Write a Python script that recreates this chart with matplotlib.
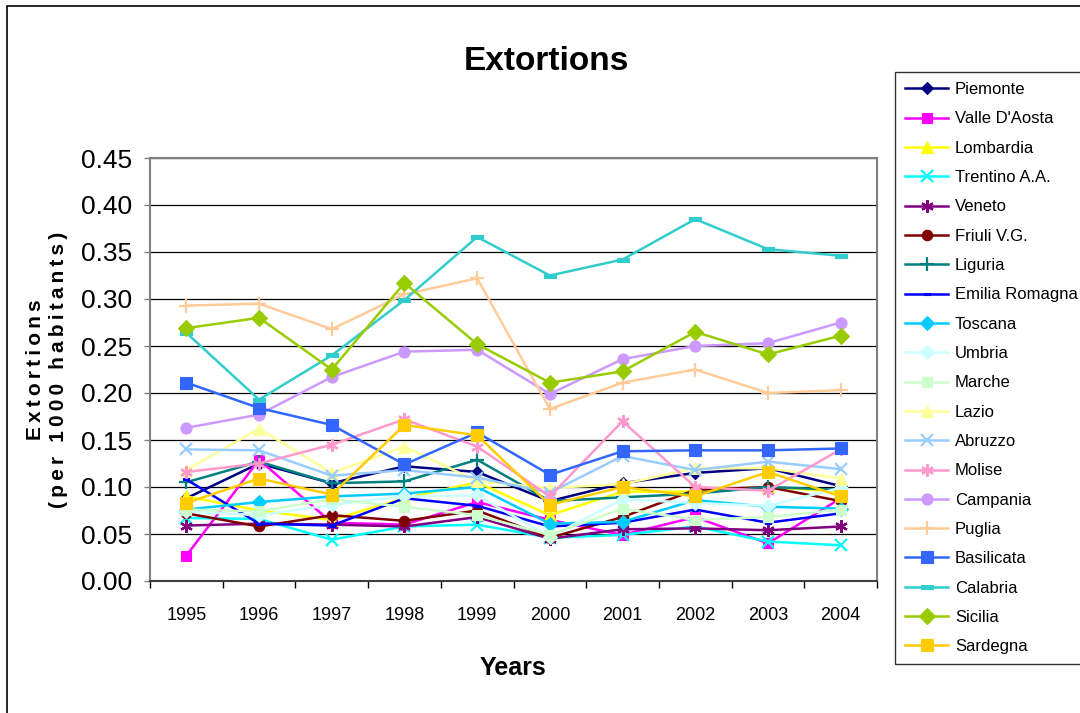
import matplotlib
matplotlib.use("Agg")
import matplotlib.pyplot as plt
from matplotlib.patches import Rectangle
from matplotlib.path import Path
import numpy as np

plt.rcParams['font.family'] = ['Liberation Sans', 'DejaVu Sans']

years = ["1995", "1996", "1997", "1998", "1999", "2000", "2001", "2002", "2003", "2004"]

piemonte = [0.088, 0.125, 0.104, 0.122, 0.116, 0.085, 0.104, 0.115, 0.120, 0.101]
valle_daosta = [0.027, 0.129, 0.062, 0.060, 0.084, 0.065, 0.049, 0.068, 0.040, 0.088]
lombardia = [0.090, 0.075, 0.065, 0.088, 0.105, 0.070, 0.095, 0.095, 0.100, 0.095]
trentino = [0.067, 0.066, 0.044, 0.058, 0.060, 0.046, 0.049, 0.058, 0.042, 0.038]
veneto = [0.059, 0.061, 0.060, 0.058, 0.068, 0.045, 0.055, 0.056, 0.054, 0.058]
friuli = [0.072, 0.058, 0.070, 0.064, 0.075, 0.046, 0.068, 0.097, 0.100, 0.085]
liguria = [0.105, 0.127, 0.104, 0.106, 0.129, 0.085, 0.089, 0.093, 0.100, 0.097]
emilia_romagna = [0.108, 0.061, 0.059, 0.088, 0.080, 0.058, 0.062, 0.076, 0.062, 0.072]
toscana = [0.076, 0.084, 0.090, 0.093, 0.100, 0.061, 0.063, 0.086, 0.079, 0.077]
umbria = [0.074, 0.070, 0.081, 0.090, 0.091, 0.047, 0.087, 0.083, 0.080, 0.099]
marche = [0.076, 0.074, 0.087, 0.079, 0.070, 0.049, 0.077, 0.065, 0.068, 0.076]
lazio = [0.118, 0.162, 0.115, 0.143, 0.106, 0.099, 0.103, 0.120, 0.120, 0.109]
abruzzo = [0.140, 0.139, 0.112, 0.118, 0.110, 0.094, 0.133, 0.118, 0.127, 0.119]
molise = [0.116, 0.125, 0.145, 0.172, 0.143, 0.090, 0.170, 0.100, 0.096, 0.140]
campania = [0.163, 0.177, 0.217, 0.244, 0.246, 0.199, 0.236, 0.250, 0.253, 0.275]
puglia = [0.293, 0.295, 0.268, 0.305, 0.322, 0.183, 0.211, 0.225, 0.200, 0.203]
basilicata = [0.211, 0.184, 0.166, 0.124, 0.158, 0.113, 0.138, 0.139, 0.139, 0.141]
calabria = [0.264, 0.193, 0.240, 0.299, 0.366, 0.325, 0.342, 0.385, 0.353, 0.346]
sicilia = [0.269, 0.280, 0.225, 0.317, 0.252, 0.211, 0.223, 0.265, 0.241, 0.261]
sardegna = [0.083, 0.109, 0.092, 0.166, 0.155, 0.081, 0.100, 0.090, 0.116, 0.090]

regions = ["Piemonte", "Valle D'Aosta", "Lombardia", "Trentino A.A.", "Veneto",
           "Friuli V.G.", "Liguria", "Emilia Romagna", "Toscana", "Umbria",
           "Marche", "Lazio", "Abruzzo", "Molise", "Campania", "Puglia",
           "Basilicata", "Calabria", "Sicilia", "Sardegna"]
series = [piemonte, valle_daosta, lombardia, trentino, veneto, friuli, liguria,
          emilia_romagna, toscana, umbria, marche, lazio, abruzzo, molise,
          campania, puglia, basilicata, calabria, sicilia, sardegna]

dash = Path([(-1, -0.35), (1, -0.35), (1, 0.35), (-1, 0.35), (-1, -0.35)],
            [Path.MOVETO, Path.LINETO, Path.LINETO, Path.LINETO, Path.CLOSEPOLY])
asterisk = (6, 2, 0)

# (colour, marker, marker size)
styles = [
    ("#000080", "D", 6.5),
    ("#FF00FF", "s", 7.5),
    ("#FFFF00", "^", 8),
    ("#00FFFF", "x", 8),
    ("#800080", asterisk, 9),
    ("#800000", "o", 7.5),
    ("#008080", "+", 10),
    ("#0000FF", dash, 5),
    ("#00CCFF", "D", 7),
    ("#CCFFFF", "D", 7),
    ("#CCFFCC", "s", 7.5),
    ("#FFFF99", "^", 8),
    ("#99CCFF", "x", 8),
    ("#FF99CC", asterisk, 9),
    ("#CC99FF", "o", 8),
    ("#FFCC99", "+", 10),
    ("#3366FF", "s", 9),
    ("#33CCCC", dash, 8),
    ("#99CC00", "D", 8),
    ("#FFCC00", "s", 8),
]

W, H = 1080, 713
fig = plt.figure(figsize=(W / 100, H / 100), dpi=100)
ax = fig.add_axes([150 / W, 1 - 581 / H, (877 - 150) / W, (581 - 158) / H])

x = np.arange(len(years))
handles = []
for name, vals, (col, mk, ms) in zip(regions, series, styles):
    filled = mk not in ("x", "+", asterisk)
    h, = ax.plot(x, vals, color=col, lw=1.8, marker=mk, ms=ms,
                 markerfacecolor=col, markeredgecolor=col,
                 markeredgewidth=1.6 if not filled else 0.8,
                 label=name, clip_on=False)
    handles.append(h)

ax.set_xlim(-0.5, len(years) - 0.5)
ax.set_ylim(0, 0.45)
ax.set_yticks(np.arange(0, 0.451, 0.05))
ax.set_yticklabels([f"{v:.2f}" for v in np.arange(0, 0.451, 0.05)])
ax.set_xticks(x)
ax.set_xticklabels(years)
ax.set_xticks(np.arange(-0.5, len(years), 1.0), minor=True)
ax.tick_params(axis='x', which='major', length=0, pad=19, labelsize=13)
ax.tick_params(axis='x', which='minor', length=5, width=1, color='black', direction='out')
ax.tick_params(axis='y', which='major', length=4, width=1, color='#808080',
               direction='out', pad=9, labelsize=19)
ax.yaxis.grid(True, color='black', lw=0.9)
ax.set_axisbelow(True)
for side in ("top", "right", "left"):
    ax.spines[side].set_color('#808080')
    ax.spines[side].set_linewidth(1.5)
ax.spines["bottom"].set_color('#404040')
ax.spines["bottom"].set_linewidth(1.5)

ax.set_xlabel("Years", fontsize=18, fontweight='bold', labelpad=23)

# spaced-out lettering for the y-axis title
thin = "\u2009"
ylab1 = thin.join("Extortions")
ylab2 = thin.join("(per 1000 habitants)")
ax.set_ylabel(ylab1 + "\n" + ylab2, fontsize=15, fontweight='bold',
              labelpad=9, linespacing=1.3)

fig.text(546 / W, 1 - 61 / H, "Extortions", ha='center', va='center',
         fontsize=24, fontweight='bold')

leg = fig.legend(handles=handles, loc='upper left',
                 bbox_to_anchor=(895 / W, 1 - 72 / H), fontsize=12,
                 frameon=True, fancybox=False, edgecolor='black',
                 handlelength=2.6, handletextpad=0.4, labelspacing=0.86,
                 borderpad=0.6, borderaxespad=0)
leg.get_frame().set_linewidth(1.0)

# outer chart border
fig.patches.append(Rectangle((7 / W, -0.05), 1.2, 1 - 6 / H + 0.05,
                             transform=fig.transFigure, fill=False,
                             edgecolor='black', lw=1.2))

fig.savefig("out.png", dpi=100)
